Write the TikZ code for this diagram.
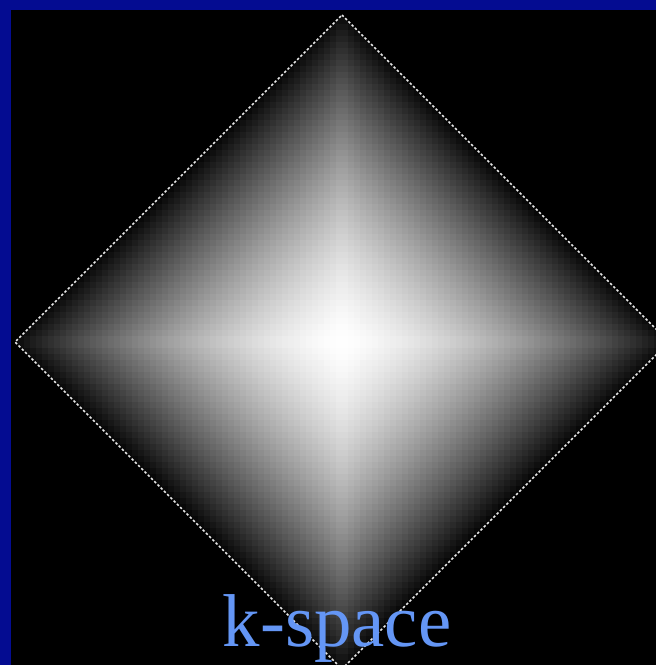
\documentclass[tikz,border=0pt]{standalone}
\usepackage{fontspec}
\setmainfont{Liberation Serif}
\definecolor{frameblue}{RGB}{4,12,145}
\definecolor{kblue}{RGB}{100,150,245}

\begin{document}
\begin{tikzpicture}[x=0.1mm, y=-0.1mm,
    cell/.style={fill=white!#1!black},
    rim/.style={draw=white!90!black, line width=0.45pt, dash pattern=on 0.7pt off 0.6pt},
    caption/.style={text=kblue, font=\fontsize{21.3}{24}\selectfont, anchor=base}
  ]
    % Frame
    \clip (0,0) rectangle (656,665);
    \fill[black] (0,0) rectangle (656,665);
    \fill[frameblue] (0,0) rectangle (656,10);
    \fill[frameblue] (0,0) rectangle (11,665);

    % Corners of the diamond
    \coordinate (c) at (342,342);
    \coordinate (t) at (342,15);
    \coordinate (r) at (669,342);
    \coordinate (b) at (342,669);
    \coordinate (l) at (15,342);

    % Spectrum
    \begin{scope}
      \clip (t) -- (r) -- (b) -- (l) -- cycle;
      \foreach \i in {-55,...,54} {
        \foreach \j in {-55,...,54} {
          \pgfmathsetmacro\u{abs(6*\i+3)/327}
          \pgfmathsetmacro\v{abs(6*\j+3)/327}
          \ifdim\dimexpr\u pt+\v pt\relax<1.03pt
            \pgfmathsetmacro\rr{(\u^0.97+\v^0.97)^(1/0.97)}
            \pgfmathsetmacro\g{max(3,100*(1-0.95*\rr^1.5))}
            \fill[cell=\g] (342+6*\i,342+6*\j) rectangle +(6,6);
          \fi
        }
      }
    \end{scope}
    \draw[rim] (t) -- (r) -- (b) -- (l) -- cycle;

    % Label
    \node[caption] (title) at (337,646) {k-space};
\end{tikzpicture}
\end{document}
